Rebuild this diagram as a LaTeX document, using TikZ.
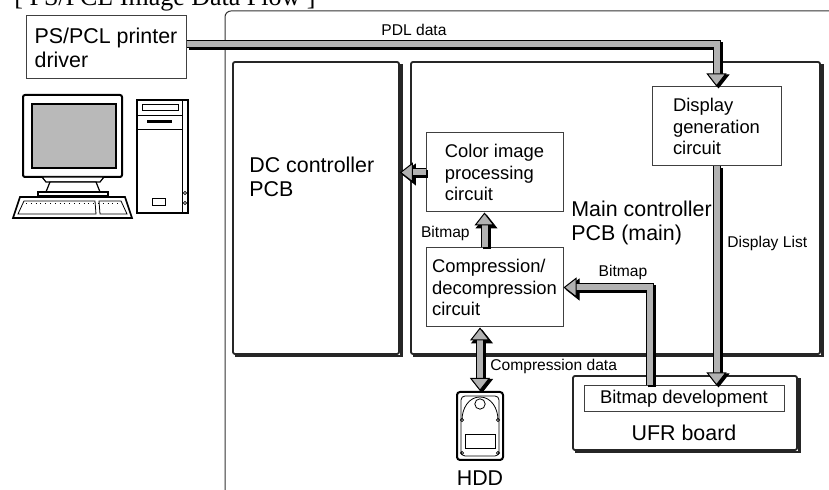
\documentclass[tikz,border=0pt]{standalone}
\usepackage{fontspec}
\setmainfont{Liberation Sans}
\newfontfamily\titlefont{Liberation Serif}
\usetikzlibrary{arrows.meta}
\newcommand\lblbig{\fontsize{10.7}{12}\selectfont}
\newcommand\lblbox{\fontsize{9.2}{10.8}\selectfont}
\newcommand\lblsmall{\fontsize{7.8}{9}\selectfont}
% dark edge on the right and bottom of a board
\newcommand\boardshadow[1]{\draw[black!85, line width=1.4pt]
  ([shift={(0.6pt,-1.6pt)}]#1.north east) -- ([shift={(0.6pt,-0.6pt)}]#1.south east)
  -- ([shift={(1.6pt,-0.6pt)}]#1.south west);}
\tikzset{
  board/.style={draw=black!85, line width=0.9pt, fill=white, rounded corners=1pt},
  box/.style={draw=black!75, line width=0.5pt, fill=white, align=left, inner sep=0pt, font=\lblbox},
  lbl/.style={font=\lblsmall, inner sep=0pt},
  tipg/.tip={Triangle[width=10pt,length=6.5pt,line width=0.5pt,color=black,fill=gray!60]},
  tipk/.tip={Triangle[width=11pt,length=7pt,line width=0.5pt,color=black,fill=black]},
  flow/.style={draw=gray!60, line width=3pt, -tipg,
    preaction={draw=black, line width=4pt, -tipk, transform canvas={shift={(1pt,-1pt)}}},
    preaction={draw=black, line width=4pt, -, shorten >=4pt}},
  flowboth/.style={draw=gray!60, line width=3pt, tipg-tipg,
    preaction={draw=black, line width=4pt, tipk-tipk, transform canvas={shift={(1pt,-1pt)}}},
    preaction={draw=black, line width=4pt, -, shorten >=4pt, shorten <=4pt}},
}
\begin{document}
\begin{tikzpicture}[x=0.5pt,y=0.5pt]
\useasboundingbox (0,0) rectangle (829,490);
\node[anchor=base west, inner sep=0pt, font=\titlefont\fontsize{13}{15}\selectfont] (title) at (14,484) {[ PS/PCL Image Data Flow ]};
\draw[black!80, line width=0.5pt, rounded corners=3pt] (225,-5) |- (840,479);

% boards
\node[board, minimum width=83pt, minimum height=146pt] (dc) at (316,282) {};
\node[board, minimum width=204.5pt, minimum height=146pt] (mainpcb) at (615.5,282) {};
\node[board, minimum width=112pt, minimum height=37pt] (ufr) at (685,77) {};
\boardshadow{dc}
\boardshadow{mainpcb}
\boardshadow{ufr}
\node[font=\lblbig, align=left, inner sep=0pt, anchor=west] (dctext) at (249,313) {DC controller\\PCB};
\node[font=\lblbig, align=left, inner sep=0pt, anchor=west] (maintext) at (571,267) {Main controller\\PCB (main)};
\node[font=\lblbig, inner sep=0pt] (ufrtext) at (684,57) {UFR board};

% circuits
\node[box, font=\lblbig, minimum width=80pt, minimum height=31.5pt] (driver) at (106,442.5) {PS/PCL printer\\driver};
\node[box, minimum width=64.5pt, minimum height=39.5pt] (disp) at (716.5,363.5) {Display\\generation\\circuit};
\node[box, minimum width=68.5pt, minimum height=39.5pt] (color) at (494.5,317.5) {Color image\\processing\\circuit};
\node[box, minimum width=68.5pt, minimum height=39.5pt] (comp) at (494.5,202.5) {Compression/\\decompression\\circuit};
\node[box, minimum width=100pt, minimum height=13pt] (bmp) at (684,91) {Bitmap development};

% HDD
\node[draw, line width=1pt, rounded corners=1.5pt, minimum width=23pt, minimum height=34pt, inner sep=0pt] (hdd) at (480,64) {};
\draw[line width=0.4pt, rounded corners=2pt] (461,34) rectangle (499,94);
\draw[line width=0.4pt] (462,70) to[out=90,in=180] (480,93) to[out=0,in=90] (498,70);
\draw[line width=0.4pt] (480,86) circle[radius=2.6pt];
\draw[line width=0.4pt] (465,42) rectangle (495,56);
\foreach \p in {(462,70),(498,70),(462,37),(498,37)}
  \draw[line width=0.3pt] \p circle[radius=0.8pt];
\node[font=\lblbig, inner sep=0pt] (hddtext) at (480,12) {HDD};

% computer
\draw[line width=1pt, fill=white, rounded corners=1pt] (23,313) rectangle (122,395);
\draw[line width=0.6pt, fill=gray!55] (32,322) rectangle (116,386);
\draw[line width=0.6pt, fill=white] (42,313) -- (104,313) -- (100,308) -- (46,308) -- cycle;
\draw[line width=0.6pt, fill=white] (50,308) -- (96,308) -- (100,298) -- (46,298) -- cycle;
\draw[line width=0.6pt, fill=white] (38,298) rectangle (108,294);
\draw[line width=0.8pt, fill=white] (20,293) -- (125,293) -- (132,272) -- (13,272) -- cycle;
\draw[line width=0.4pt] (24,289) -- (95,289) -- (96,276) -- (18,276) -- cycle;
\draw[line width=0.4pt] (99,289) -- (121,289) -- (127,276) -- (100,276) -- cycle;
\draw[line width=0.4pt, dotted] (26,287) -- (120,287);
\draw[line width=0.8pt, fill=white] (137,277) rectangle (188,390);
\draw[line width=0.4pt] (182,277) -- (182,390);
\draw[line width=0.4pt] (137,375) -- (182,375);
\draw[line width=0.4pt] (137,361) -- (182,361);
\draw[line width=0.5pt] (142,379) rectangle (178,385);
\fill (147,367) rectangle (172,370);
\draw[line width=0.4pt] (152,285) rectangle (165,292);
\draw[line width=0.4pt] (185,297) circle[radius=0.8pt];
\draw[line width=0.4pt] (185,287) circle[radius=0.8pt];

% data flow
\draw[flow] ([yshift=1.75pt]driver.east) -| (disp.north);
\draw[flow] (color.west) -- (color.west -| dc.east);
\draw[flow] ([xshift=-5pt]comp.north) -- ([xshift=-5pt]color.south);
\draw[flowboth] (hdd.north |- comp.south) -- (hdd.north);
\draw[flow] (disp.south) -- (disp.south |- bmp.north);
\draw[flow] ([xshift=-17pt]bmp.north) |- (comp.east);

\node[lbl] (pdl) at (414,460) {PDL data};
\node[lbl, anchor=east] (bitl) at (470,257) {Bitmap};
\node[lbl] (bitr) at (623,218) {Bitmap};
\node[lbl, anchor=west] (compdata) at (490,124) {Compression data};
\node[lbl, anchor=west] (displist) at (727,247) {Display List};
\end{tikzpicture}
\end{document}
